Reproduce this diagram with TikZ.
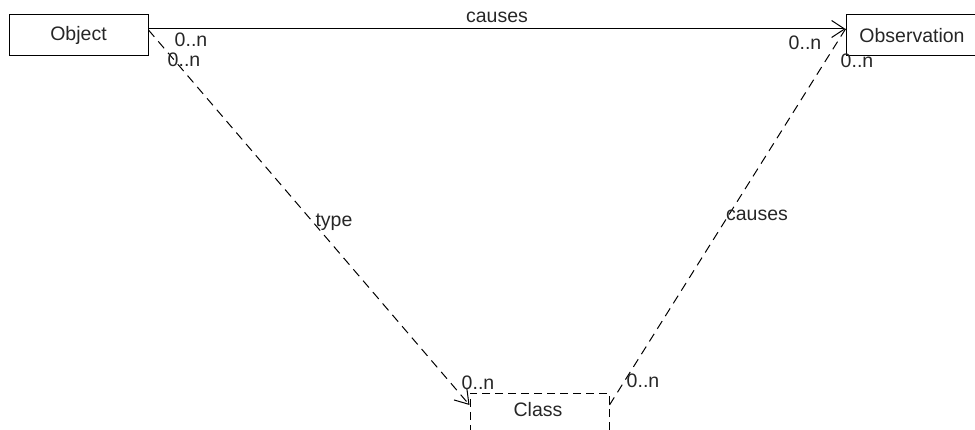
\documentclass[tikz,border=0pt]{standalone}
\usepackage{fontspec}
\setmainfont{Liberation Sans}
\usetikzlibrary{arrows.meta}
\begin{document}
\begin{tikzpicture}[x=1pt,y=-1pt,
  box/.style={draw=black,line width=1pt,minimum width=139pt,minimum height=41pt,inner sep=0pt,font=\fontsize{19.5}{22}\selectfont,text=black!85},
  dbox/.style={box,dashed,dash pattern=on 8pt off 5pt},
  lbl/.style={font=\fontsize{19.5}{22}\selectfont,text=black!85,inner sep=0pt},
  conn/.style={draw=black,line width=1pt},
  dconn/.style={conn,dash pattern=on 9pt off 6pt},
  head/.style={-{Straight Barb[length=13pt,width=17pt,line width=1pt]}}]
\path[use as bounding box,clip] (0,0) rectangle (975,430);
\node[box] (obj) at (78.5,35.5) {Object};
\node[box,minimum width=132pt] (obs) at (912,35.5) {Observation};
\node[dbox] (cls) at (539.5,413.5) {};
\node[lbl] (clstext) at (538,410) {Class};
% connectors
\draw[conn,head] ([yshift=6.5pt]obj.east) -- node[lbl,above=6pt] (c1) {causes} ([yshift=6.5pt]obs.west);
\draw[dconn,head] ([yshift=5.5pt]obj.east) -- ([yshift=8.5pt]cls.west);
\draw[dconn] ([yshift=8.5pt]cls.east) -- ([yshift=6.5pt]obs.west);
% labels
\node[lbl] (t1) at (334,222) {type};
\node[lbl] (t2) at (757,215) {causes};
\node[lbl] (m1) at (191,40) {0..n};
\node[lbl] (m2) at (184,60) {0..n};
\node[lbl] (m3) at (805,43) {0..n};
\node[lbl] (m4) at (857,61) {0..n};
\node[lbl] (m5) at (478,383) {0..n};
\node[lbl] (m6) at (643,381) {0..n};
\end{tikzpicture}
\end{document}
